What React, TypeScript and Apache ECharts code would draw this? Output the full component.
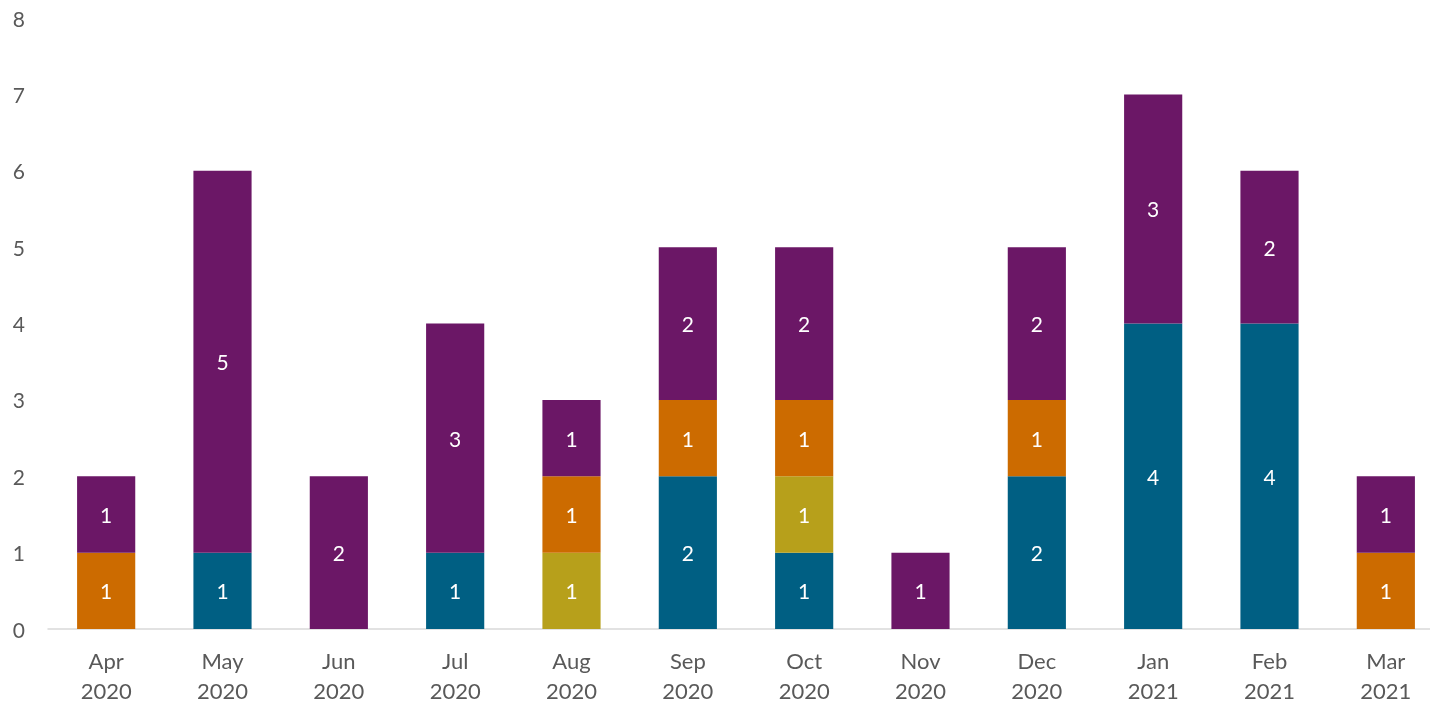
import React, { useEffect, useRef } from "react";
import * as echarts from "echarts";

const categories = ["Apr\n2020", "May\n2020", "Jun\n2020", "Jul\n2020", "Aug\n2020", "Sep\n2020", "Oct\n2020", "Nov\n2020", "Dec\n2020", "Jan\n2021", "Feb\n2021", "Mar\n2021"];
const tealValues = [0, 1, 0, 1, 0, 2, 1, 0, 2, 4, 4, 0];
const oliveValues = [0, 0, 0, 0, 1, 0, 1, 0, 0, 0, 0, 0];
const orangeValues = [1, 0, 0, 0, 1, 1, 1, 0, 1, 0, 0, 1];
const purpleValues = [1, 5, 2, 3, 1, 2, 2, 1, 2, 3, 2, 1];

const FONT = "Lato, 'Noto Sans', sans-serif";

export default function App() {
  const ref = useRef<HTMLDivElement>(null);
  useEffect(() => {
    if (!ref.current) return;
    const chart = echarts.init(ref.current, undefined, { renderer: "svg" });
    const mk = (name: string, data: number[], color: string) => ({
      name,
      type: "bar",
      stack: "total",
      data,
      barWidth: "50%",
      itemStyle: { color },
      label: {
        show: true,
        position: "inside",
        color: "#ffffff",
        fontSize: 21,
        fontFamily: FONT,
        formatter: (p: any) => (p.value ? String(p.value) : ""),
      },
    });
    const lblStyle = { color: "#595959", fontSize: 22, fontFamily: FONT };
    chart.setOption({
      animation: false,
      grid: { left: 48, top: 18, width: 1396, bottom: 73, containLabel: false, outerBoundsMode: "none" },
      xAxis: {
        type: "category",
        data: categories,
        axisLine: { lineStyle: { color: "#d9d9d9", width: 1.5 } },
        axisTick: { show: false },
        axisLabel: {
          ...lblStyle,
          margin: 12,
          formatter: (v: string) => {
            const [m, y] = v.split("\n");
            return `{a|${m}}\n{b|${y}}`;
          },
          rich: {
            a: { ...lblStyle, lineHeight: 38 },
            b: { ...lblStyle, lineHeight: 22 },
          },
        },
      },
      yAxis: {
        type: "value",
        min: 0,
        max: 8,
        interval: 1,
        splitLine: { show: false },
        axisLine: { show: false },
        axisTick: { show: false },
        axisLabel: { color: "#595959", fontSize: 21, fontFamily: FONT, margin: 23 },
      },
      series: [
        mk("Teal", tealValues, "#005f83"),
        mk("Olive", oliveValues, "#b7a01b"),
        mk("Orange", orangeValues, "#cc6b00"),
        mk("Purple", purpleValues, "#6b1766"),
      ],
    });
    return () => chart.dispose();
  }, []);
  return (
    <div style={{ position: "fixed", left: 0, top: 0, width: 1430, height: 702, overflow: "hidden" }}>
      <div ref={ref} style={{ width: 1430, height: 702, overflow: "hidden" }} />
    </div>
  );
}
